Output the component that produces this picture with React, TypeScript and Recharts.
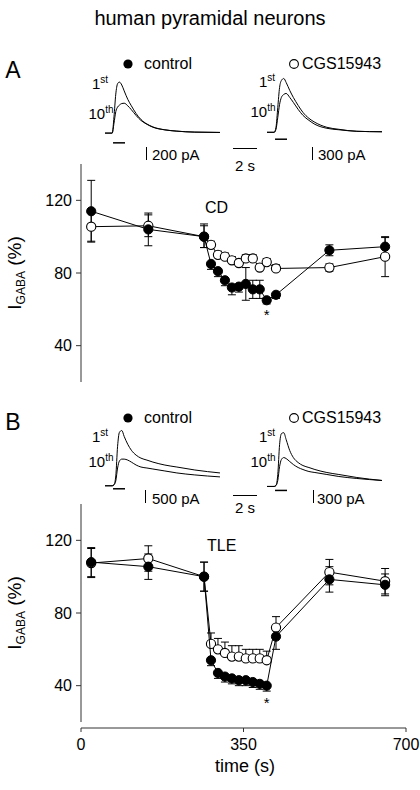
import React from "react";
import {
  ScatterChart,
  Scatter,
  LineChart,
  Line,
  XAxis,
  YAxis,
  ErrorBar,
  ReferenceLine,
  ReferenceDot,
} from "recharts";

// time points of the GABA applications (s)
const times = [22, 145, 265, 280, 295, 310, 325, 340, 355, 370, 385, 400, 420, 535, 655];

// panel A, CD
const cdControl = [114, 104, 100, 85, 81, 76, 72, 72.5, 74, 71, 71, 65, 68, 92.5, 94.5];
const cdControlErrDown = [17, 9, 6, 3, 3, 3, 4, 3, 9, 5, 5, 2, 2, 3, 5];
const cdControlErrUp = [17, 9, 6, 0, 0, 0, 0, 0, 9, 5, 5, 0, 0, 3, 5];
const cdCgs = [105.5, 106, 100, 95.5, 90, 89, 87, 85.5, 88, 88, 83, 86, 82.5, 83, 89];
const cdCgsErrDown = [8, 6, 6, 0, 0, 0, 0, 0, 0, 0, 0, 0, 0, 2, 11];
const cdCgsErrUp = [8, 6, 7, 2, 2, 2, 2, 2, 2, 2, 2, 2, 2, 2, 11];

// panel B, TLE
const tleControl = [108, 105.5, 100, 54, 47, 45, 44, 43, 43, 42, 41, 40, 67, 98.5, 95.5];
const tleControlErrDown = [8, 7, 8, 3, 3, 3, 3, 3, 3, 3, 3, 3, 7, 7, 6];
const tleControlErrUp = [8, 7, 8, 0, 0, 0, 0, 0, 0, 0, 0, 0, 0, 7, 6];
const tleCgs = [107.5, 110, 100, 63, 60, 58, 56, 56, 55, 55, 55, 54, 72, 102.5, 97.5];
const tleCgsErrDown = [8, 7, 8, 0, 0, 0, 0, 0, 0, 0, 0, 0, 0, 7, 7];
const tleCgsErrUp = [8, 7, 8, 6, 6, 6, 6, 6, 5, 5, 5, 5, 6, 7, 7];

const yTicks = [40, 80, 120];
const xTicks = [0, 350, 700];

// example current traces (s, pA)
const traceTime = [0, 0.6, 0.75, 0.9, 1.05, 1.2, 1.4, 1.6, 1.9, 2.2, 2.6, 3.0, 3.5, 4.0, 5.0, 6.0, 7.5, 9.6];
const cdCtrl1st = [0, 0, 250, 600, 760, 785, 740, 650, 520, 420, 300, 210, 140, 95, 50, 30, 15, 10];
const cdCtrl10th = [0, 0, 150, 330, 400, 430, 455, 460, 420, 360, 270, 195, 135, 90, 50, 30, 15, 10];
const cdCgs1st = [0, 0, 115, 575, 1035, 1196, 1242, 1150, 966, 805, 621, 460, 322, 230, 115, 69, 23, 12];
const cdCgs10th = [0, 0, 69, 345, 644, 805, 874, 897, 805, 690, 529, 391, 276, 184, 92, 58, 23, 12];
const tleCtrl1st = [0, 0, 38, 380, 1520, 2052, 2128, 1900, 1596, 1368, 1178, 1064, 988, 912, 798, 722, 608, 494];
const tleCtrl10th = [0, 0, 38, 190, 684, 950, 1026, 1026, 988, 912, 798, 722, 684, 646, 570, 494, 418, 342];
const tleCgs1st = [0, 0, 23, 276, 966, 1219, 1242, 1081, 828, 667, 552, 483, 437, 391, 322, 276, 207, 138];
const tleCgs10th = [0, 0, 23, 138, 460, 621, 667, 644, 575, 506, 437, 391, 345, 322, 276, 230, 184, 138];

const FONT = "'Liberation Sans', Arial, Helvetica, sans-serif";

function series(values: number[], down: number[], up: number[]) {
  return times.map((t, i) => ({ t, v: values[i], err: [down[i], up[i]] }));
}

const filledDot = (p: any) => (
  <circle cx={p.cx} cy={p.cy} r={4.6} fill="#000" stroke="#000" strokeWidth={1} />
);
const openDot = (p: any) => (
  <circle cx={p.cx} cy={p.cy} r={4.6} fill="#fff" stroke="#000" strokeWidth={1.1} />
);

function Txt({ x, y, size = 15, children, anchor = "center" }: any) {
  return (
    <div
      style={{
        position: "absolute",
        left: x,
        top: y,
        fontSize: size,
        lineHeight: 1,
        whiteSpace: "nowrap",
        transform: anchor === "center" ? "translate(-50%, -50%)" : "translate(0, -50%)",
      }}
    >
      {children}
    </div>
  );
}

function VBar({ x, y1, y2 }: { x: number; y1: number; y2: number }) {
  return (
    <div style={{ position: "absolute", left: x, top: y1, width: 1, height: y2 - y1, background: "#000" }} />
  );
}

function HBar({ x1, x2, y }: { x1: number; x2: number; y: number }) {
  return (
    <div style={{ position: "absolute", left: x1, top: y, width: x2 - x1, height: 1, background: "#000" }} />
  );
}

function Trace({ left, baseline, ppu, lo, hi, first, tenth, stimY }: any) {
  const data = traceTime.map((t, i) => ({ t, a: first[i], b: tenth[i] }));
  const top = baseline - hi * ppu;
  const height = (hi - lo) * ppu;
  return (
    <div style={{ position: "absolute", left, top }}>
      <LineChart width={115} height={height} data={data} margin={{ top: 0, right: 0, bottom: 0, left: 0 }}>
        <XAxis dataKey="t" type="number" domain={[0, 9.6]} hide />
        <YAxis type="number" domain={[lo, hi]} hide />
        <Line dataKey="a" stroke="#000" strokeWidth={1} dot={false} isAnimationActive={false} type="monotone" />
        <Line dataKey="b" stroke="#000" strokeWidth={1} dot={false} isAnimationActive={false} type="monotone" />
        <ReferenceLine
          segment={[
            { x: 0.67, y: stimY },
            { x: 1.67, y: stimY },
          ]}
          stroke="#000"
          strokeWidth={1.5}
        />
      </LineChart>
    </div>
  );
}

function Ordinal({ x, y, n, sup }: any) {
  return (
    <Txt x={x} y={y} size={15}>
      {n}
      <sup style={{ fontSize: 10, verticalAlign: "6px" }}>{sup}</sup>
    </Txt>
  );
}

function Legend({ y }: { y: number }) {
  return (
    <>
      <svg style={{ position: "absolute", left: 0, top: 0 }} width={420} height={790}>
        <circle cx={128} cy={y} r={4.6} fill="#000" />
        <circle cx={294} cy={y} r={4.4} fill="#fff" stroke="#000" strokeWidth={1.1} />
      </svg>
      <Txt x={144} y={y} size={16} anchor="left">control</Txt>
      <Txt x={302} y={y} size={16} anchor="left">CGS15943</Txt>
    </>
  );
}

function YLabel({ y }: { y: number }) {
  return (
    <div
      style={{
        position: "absolute",
        left: 16,
        top: y,
        fontSize: 19,
        lineHeight: 1,
        whiteSpace: "nowrap",
        transform: "translate(-50%, -50%) rotate(-90deg)",
      }}
    >
      I<sub style={{ fontSize: 12 }}>GABA</sub> (%)
    </div>
  );
}

function Panel({ control, cgs, label, labelX, labelY, starY, withX }: any) {
  const height = withX ? 290 : 240;
  return (
    <ScatterChart
      width={420}
      height={height}
      margin={{ top: 14, right: 14, bottom: withX ? 0 : 8, left: 0 }}
    >
      <XAxis
        dataKey="t"
        type="number"
        domain={[0, 700]}
        ticks={xTicks}
        hide={!withX}
        height={52}
        tickSize={4}
        tickMargin={7}
        tick={{ fill: "#000", fontSize: 16 }}
        axisLine={{ stroke: "#333" }}
        tickLine={{ stroke: "#333" }}
      />
      <YAxis
        dataKey="v"
        type="number"
        domain={[20, 140]}
        ticks={yTicks}
        width={81}
        padding={{ top: 0, bottom: withX ? 6 : 0 }}
        tickSize={5}
        tickMargin={4}
        tick={{ fill: "#000", fontSize: 16 }}
        axisLine={false}
        tickLine={{ stroke: "#333" }}
      />
      <ReferenceLine
        segment={[
          { x: 0, y: 20 },
          { x: 0, y: 140 },
        ]}
        stroke="#333"
        strokeWidth={1}
      />
      <Scatter data={cgs} shape={openDot} line={{ stroke: "#000", strokeWidth: 1 }} isAnimationActive={false}>
        <ErrorBar dataKey="err" direction="y" width={4} stroke="#000" strokeWidth={1} />
      </Scatter>
      <Scatter data={control} shape={filledDot} line={{ stroke: "#000", strokeWidth: 1 }} isAnimationActive={false}>
        <ErrorBar dataKey="err" direction="y" width={4} stroke="#000" strokeWidth={1} />
      </Scatter>
      <ReferenceDot
        x={labelX}
        y={labelY}
        r={0}
        label={{ value: label, position: "center", fontSize: 16, fill: "#000" }}
      />
      <ReferenceDot x={400} y={starY} r={0} label={{ value: "*", position: "center", fontSize: 15, fill: "#000" }} />
    </ScatterChart>
  );
}

export default function App() {
  return (
    <div
      style={{
        position: "absolute",
        left: 0,
        top: 0,
        width: 420,
        height: 790,
        background: "#fff",
        fontFamily: FONT,
        color: "#000",
        overflow: "hidden",
      }}
    >
      <Txt x={210} y={18} size={20}>human pyramidal neurons</Txt>

      {/* panel A */}
      <Txt x={13} y={70} size={23}>A</Txt>
      <Legend y={64} />
      <Trace left={105} baseline={133} ppu={0.065} lo={-200} hi={940} first={cdCtrl1st} tenth={cdCtrl10th} stimY={-150} />
      <Trace left={267} baseline={132} ppu={0.0433} lo={-250} hi={1300} first={cdCgs1st} tenth={cdCgs10th} stimY={-160} />
      <Ordinal x={100} y={83} n="1" sup="st" />
      <Ordinal x={101} y={113} n="10" sup="th" />
      <Ordinal x={267} y={81} n="1" sup="st" />
      <Ordinal x={263} y={111} n="10" sup="th" />
      <VBar x={146} y1={147} y2={160} />
      <Txt x={152} y={154} size={15} anchor="left">200 pA</Txt>
      <HBar x1={233} x2={257} y={148} />
      <Txt x={245} y={165} size={15}>2 s</Txt>
      <VBar x={312} y1={147} y2={160} />
      <Txt x={318} y={154} size={15} anchor="left">300 pA</Txt>
      <div style={{ position: "absolute", left: 0, top: 150 }}>
        <Panel
          control={series(cdControl, cdControlErrDown, cdControlErrUp)}
          cgs={series(cdCgs, cdCgsErrDown, cdCgsErrUp)}
          label="CD"
          labelX={292}
          labelY={116}
          starY={57}
          withX={false}
        />
      </div>
      <YLabel y={273} />

      {/* panel B */}
      <Txt x={13} y={422} size={23}>B</Txt>
      <Legend y={418} />
      <Trace left={105} baseline={486} ppu={0.026} lo={-300} hi={2300} first={tleCtrl1st} tenth={tleCtrl10th} stimY={-115} />
      <Trace left={267} baseline={486} ppu={0.0433} lo={-300} hi={1350} first={tleCgs1st} tenth={tleCgs10th} stimY={-92} />
      <Ordinal x={100} y={436} n="1" sup="st" />
      <Ordinal x={101} y={461} n="10" sup="th" />
      <Ordinal x={267} y={436} n="1" sup="st" />
      <Ordinal x={263} y={461} n="10" sup="th" />
      <VBar x={145} y1={490} y2={503} />
      <Txt x={152} y={498} size={15} anchor="left">500 pA</Txt>
      <HBar x1={233} x2={257} y={495} />
      <Txt x={245} y={507} size={15}>2 s</Txt>
      <VBar x={313} y1={490} y2={503} />
      <Txt x={317} y={498} size={15} anchor="left">300 pA</Txt>
      <div style={{ position: "absolute", left: 0, top: 490 }}>
        <Panel
          control={series(tleControl, tleControlErrDown, tleControlErrUp)}
          cgs={series(tleCgs, tleCgsErrDown, tleCgsErrUp)}
          label="TLE"
          labelX={303}
          labelY={117}
          starY={30.5}
          withX={true}
        />
      </div>
      <YLabel y={613} />
      <Txt x={245} y={766} size={18}>time (s)</Txt>
    </div>
  );
}
